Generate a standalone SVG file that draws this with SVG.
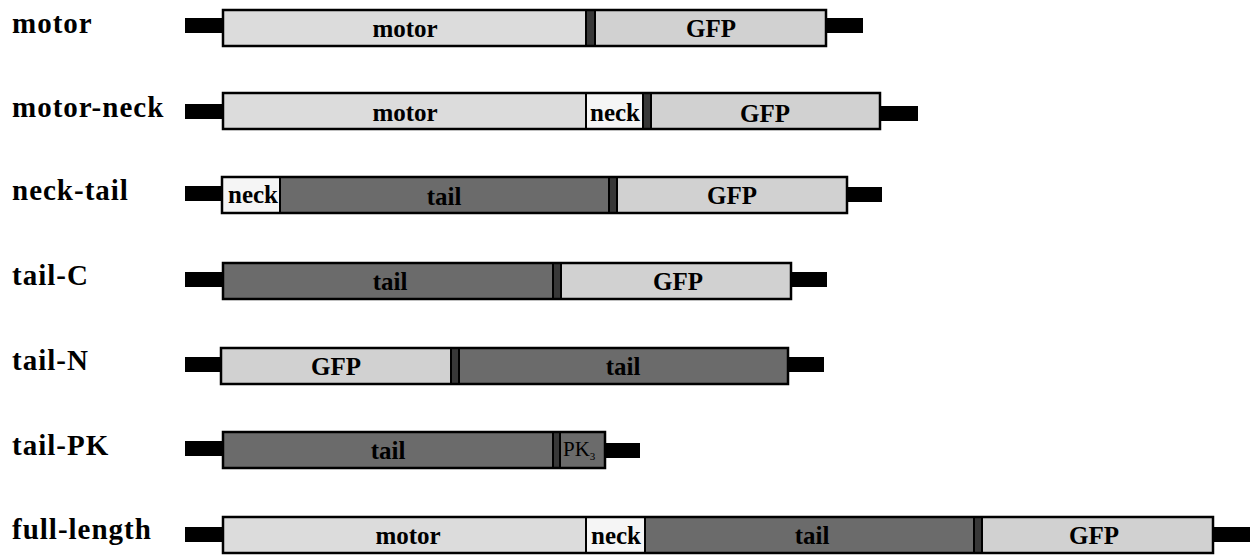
<svg xmlns="http://www.w3.org/2000/svg" width="1251" height="556" viewBox="0 0 1251 556">
  <style>
    text { font-family: "Liberation Serif", "DejaVu Serif", serif; font-weight: bold; fill: #000; }
    .lbl { font-size: 29px; letter-spacing: 1px; }
    .seg-t { font-size: 25px; text-anchor: middle; }
    .small { font-size: 21px; font-weight: normal; }
    .bar { fill: #000; }
    .seg { stroke: #000; stroke-width: 2; }
    .motor { fill: #dcdcdc; }
    .gfp { fill: #d1d1d1; }
    .neck { fill: #f5f5f5; }
    .tail { fill: #6b6b6b; }
    .link { fill: #383838; }
    .frame { fill: none; stroke: #000; stroke-width: 2.5; }
  </style>

  <!-- motor construct -->
  <g id="motor">
    <text class="lbl" x="12" y="33">motor</text>
    <rect class="bar" x="185" y="18" width="38" height="15"/>
    <rect class="bar" x="826" y="18" width="37" height="15"/>
    <rect class="seg motor" x="223" y="10" width="363" height="36"/>
    <rect class="seg link" x="586" y="10" width="9" height="36"/>
    <rect class="seg gfp" x="595" y="10" width="231" height="36"/>
    <rect class="frame" x="223" y="10" width="603" height="36"/>
    <text class="seg-t" x="405" y="37">motor</text>
    <text class="seg-t" x="711" y="37">GFP</text>
  </g>

  <!-- motor-neck construct -->
  <g id="motor-neck">
    <text class="lbl" x="12" y="117">motor-neck</text>
    <rect class="bar" x="185" y="104" width="38" height="15"/>
    <rect class="bar" x="880" y="106" width="38" height="15"/>
    <rect class="seg motor" x="223" y="93" width="363" height="36"/>
    <rect class="seg neck" x="586" y="93" width="57" height="36"/>
    <rect class="seg link" x="643" y="93" width="8" height="36"/>
    <rect class="seg gfp" x="651" y="93" width="229" height="36"/>
    <rect class="frame" x="223" y="93" width="657" height="36"/>
    <text class="seg-t" x="405" y="121">motor</text>
    <text class="seg-t" x="615" y="121">neck</text>
    <text class="seg-t" x="765" y="122">GFP</text>
  </g>

  <!-- neck-tail construct -->
  <g id="neck-tail">
    <text class="lbl" x="12" y="200">neck-tail</text>
    <rect class="bar" x="185" y="186" width="37" height="15"/>
    <rect class="bar" x="847" y="187" width="35" height="15"/>
    <rect class="seg neck" x="222" y="177" width="58" height="36"/>
    <rect class="seg tail" x="280" y="177" width="329" height="36"/>
    <rect class="seg link" x="609" y="177" width="8" height="36"/>
    <rect class="seg gfp" x="617" y="177" width="230" height="36"/>
    <rect class="frame" x="222" y="177" width="625" height="36"/>
    <text class="seg-t" x="253" y="203">neck</text>
    <text class="seg-t" x="444" y="205">tail</text>
    <text class="seg-t" x="732" y="204">GFP</text>
  </g>

  <!-- tail-C construct -->
  <g id="tail-C">
    <text class="lbl" x="12" y="285">tail-C</text>
    <rect class="bar" x="185" y="272" width="38" height="15"/>
    <rect class="bar" x="791" y="272" width="36" height="15"/>
    <rect class="seg tail" x="223" y="263" width="330" height="36"/>
    <rect class="seg link" x="553" y="263" width="8" height="36"/>
    <rect class="seg gfp" x="561" y="263" width="230" height="36"/>
    <rect class="frame" x="223" y="263" width="568" height="36"/>
    <text class="seg-t" x="390" y="290">tail</text>
    <text class="seg-t" x="678" y="290">GFP</text>
  </g>

  <!-- tail-N construct -->
  <g id="tail-N">
    <text class="lbl" x="12" y="370">tail-N</text>
    <rect class="bar" x="185" y="357" width="36" height="15"/>
    <rect class="bar" x="788" y="357" width="36" height="15"/>
    <rect class="seg gfp" x="221" y="348" width="230" height="36"/>
    <rect class="seg link" x="451" y="348" width="8" height="36"/>
    <rect class="seg tail" x="459" y="348" width="329" height="36"/>
    <rect class="frame" x="221" y="348" width="567" height="36"/>
    <text class="seg-t" x="336" y="375">GFP</text>
    <text class="seg-t" x="623" y="375">tail</text>
  </g>

  <!-- tail-PK construct -->
  <g id="tail-PK">
    <text class="lbl" x="12" y="455">tail-PK</text>
    <rect class="bar" x="185" y="441" width="38" height="15"/>
    <rect class="bar" x="605" y="443" width="35" height="15"/>
    <rect class="seg tail" x="223" y="432" width="330" height="36"/>
    <rect class="seg link" x="553" y="432" width="7" height="36"/>
    <rect class="seg tail" x="560" y="432" width="45" height="36"/>
    <rect class="frame" x="223" y="432" width="382" height="36"/>
    <text class="seg-t" x="388" y="459">tail</text>
    <text class="small" x="563" y="456">PK<tspan font-size="11" dy="4">3</tspan></text>
  </g>

  <!-- full-length construct -->
  <g id="full-length">
    <text class="lbl" x="12" y="539">full-length</text>
    <rect class="bar" x="185" y="527" width="38" height="15"/>
    <rect class="bar" x="1213" y="527" width="37" height="15"/>
    <rect class="seg motor" x="223" y="517" width="363" height="36"/>
    <rect class="seg neck" x="586" y="517" width="59" height="36"/>
    <rect class="seg tail" x="645" y="517" width="329" height="36"/>
    <rect class="seg link" x="974" y="517" width="8" height="36"/>
    <rect class="seg gfp" x="982" y="517" width="231" height="36"/>
    <rect class="frame" x="223" y="517" width="990" height="36"/>
    <text class="seg-t" x="408" y="544">motor</text>
    <text class="seg-t" x="616" y="544">neck</text>
    <text class="seg-t" x="812" y="544">tail</text>
    <text class="seg-t" x="1094" y="544">GFP</text>
  </g>

  <!-- no connectors in this figure -->
  <g id="connectors"></g>
</svg>
